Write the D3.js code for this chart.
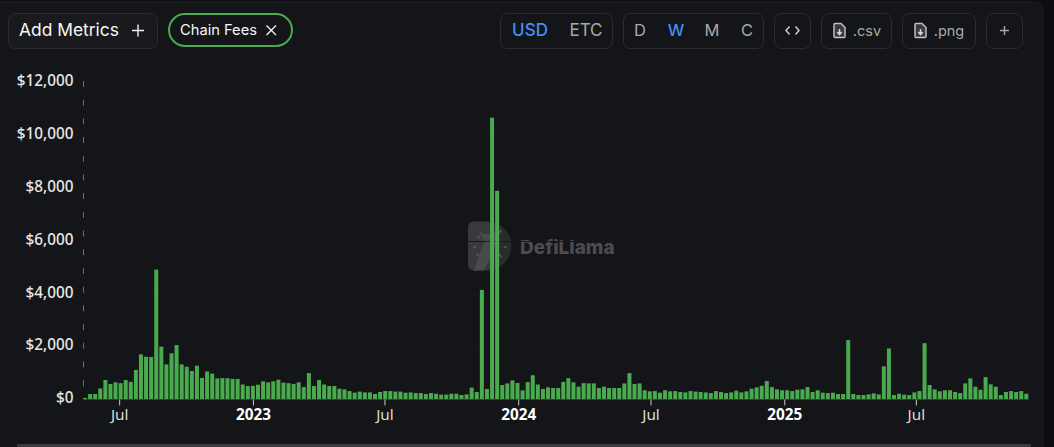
<!DOCTYPE html>
<html><head><meta charset="utf-8">
<script src="https://cdn.jsdelivr.net/npm/d3@7/dist/d3.min.js"></script>
<style>html,body{margin:0;padding:0;background:#0c0d0f;overflow:hidden}svg{display:block}</style>
</head><body><svg id="c" width="1054" height="447"></svg>
<script>
const firstWeek = "2022-05-15";
const chainFees = [40,190,190,400,720,570,630,600,720,650,1100,1690,1600,1590,4900,1980,1310,1730,2040,1310,1220,1060,1260,800,1040,960,780,790,790,760,760,550,490,500,540,670,630,670,730,620,600,570,630,450,980,
490,720,550,490,490,390,365,300,240,280,250,250,190,265,300,300,280,280,240,250,225,225,190,225,200,165,165,200,200,150,175,430,265,4130,380,10650,7880,530,590,705,605,330,640,900,550,
380,440,415,415,650,790,630,465,600,590,590,415,465,415,415,415,590,980,565,590,330,290,300,240,330,290,300,265,250,300,280,265,250,225,300,265,225,250,315,250,290,390,440,500,680,450,365,
330,330,300,350,365,450,265,330,240,225,240,190,190,2230,190,150,150,175,215,175,1235,1915,150,200,165,150,250,300,2115,530,365,290,330,330,265,225,590,780,465,350,830,555,465,150,265,300,265,300,200];
const yTicks = [0,2000,4000,6000,8000,10000,12000];
const xTickDates = ["2022-07-01","2023-01-01","2023-07-01","2024-01-01","2024-07-01","2025-01-01","2025-07-01"];
const xTickLabels = ["Jul","2023","Jul","2024","Jul","2025","Jul"];
const unitOptions = ["USD","ETC"];
const periodOptions = ["D","W","M","C"];

const GREEN="#4aaa4e", BLUE="#4a8bf5", BORDER="#2a2c30";
const svg=d3.select("#c");
const font="Inter, 'Noto Sans', sans-serif";
svg.append("rect").attr("x",-10).attr("y",2).attr("width",1053).attr("height",460).attr("rx",8).attr("fill","#141518").attr("stroke","#1f2023");

// watermark
const wm=svg.append("g");
wm.append("path").attr("d","M474 221.500H487A24.500 24.500 0 0 1 487 270.500H474A6 6 0 0 1 468 264.500V227.500A6 6 0 0 1 474 221.500Z").attr("fill","#2a2b2d");
wm.append("rect").attr("x",468).attr("y",221.5).attr("width",24).attr("height",49).attr("rx",6).attr("fill","#39393b");
wm.append("path").attr("d","M478 229L483 234L490 234L494 229L496 243L492 254L484 270.500L474 270.500L481 250L484 243Z").attr("fill","#4a4a4c");
const wmTicks=[[473,247,476,247],[476,256,479,254],[477,236,480,238],[501,230,499,233],[507,247,504,247],[502,257,499,254]];
wm.append("g").selectAll("line").data(wmTicks).join("line")
 .attr("x1",d=>d[0]).attr("y1",d=>d[1]).attr("x2",d=>d[2]).attr("y2",d=>d[3]).attr("stroke","#58585a").attr("stroke-width",1.5);
wm.append("text").attr("x",520).attr("y",254).attr("font-family","Inter, sans-serif").attr("font-weight",800).attr("font-size",19).attr("fill","#4c4c4e").text("DefiLlama");

// scales
const parse=d3.utcParse("%Y-%m-%d");
const dates=chainFees.map((_,i)=>d3.utcWeek.offset(parse(firstWeek),i));
const x=d3.scaleUtc().domain([dates[0],dates[dates.length-1]]).range([85,1026.3]);
const y=d3.scaleLinear().domain([0,12000]).range([399,82]);

// grid
svg.append("g").selectAll("line").data(yTicks.slice(1)).join("line")
 .attr("x1",84).attr("x2",1029).attr("y1",d=>Math.round(y(d))+.5).attr("y2",d=>Math.round(y(d))+.5)
 .attr("stroke","#18191c");

// bars
svg.append("g").selectAll("rect").data(chainFees).join("rect")
 .attr("x",(d,i)=>x(dates[i])-2).attr("width",4)
 .attr("y",d=>y(d)).attr("height",d=>399-y(d)).attr("fill",GREEN);

// y axis
const ya=svg.append("g").attr("transform","translate(83.5,0)")
 .call(d3.axisLeft(y).tickValues(yTicks).tickSize(0).tickPadding(10).tickFormat(d=>"$"+d3.format(",")(d)));
ya.select(".domain").attr("d","M0,81V399").attr("stroke",GREEN).attr("stroke-dasharray","6 12.700").attr("opacity",.8);
ya.selectAll("text").attr("font-family","'Noto Sans', sans-serif").attr("font-size",15.3).attr("font-weight",500).attr("fill","#e8e8e8").attr("dy","0.25em");

// x axis
const tickD=xTickDates.map(parse);
const xa=svg.append("g").attr("transform","translate(0,399.5)")
 .call(d3.axisBottom(x).tickValues(tickD).tickSize(6).tickPadding(4).tickFormat((d,i)=>xTickLabels[i]));
xa.select(".domain").attr("d","M83,0H1029").attr("stroke","#3a3c3f").attr("stroke-width",1);
xa.selectAll("line").attr("stroke","#c8c8c8");
xa.selectAll("text").attr("font-family","'Noto Sans', sans-serif").attr("font-size",15.3)
 .attr("font-weight",(d,i)=>/^\d/.test(xTickLabels[i])?700:400).attr("fill",(d,i)=>/^\d/.test(xTickLabels[i])?"#fff":"#dcdcdc");

// bottom scrollbar strip
svg.append("rect").attr("x",17).attr("y",444).attr("width",1014).attr("height",4).attr("rx",1).attr("fill","#3a3b3d");

// controls
function box(x0,x1,fill){svg.append("rect").attr("x",x0+.5).attr("y",13.5).attr("width",x1-x0-1).attr("height",35).attr("rx",7).attr("fill",fill||"none").attr("stroke",BORDER);}
function label(t,cx,col,size,anchor,w){svg.append("text").attr("x",cx).attr("y",36).attr("text-anchor",anchor||"middle").attr("font-family",font).attr("font-size",size||16).attr("font-weight",w||400).attr("fill",col).text(t);}
function plus(cx,cy,r,col){svg.append("path").attr("d",`M${cx-r} ${cy}H${cx+r}M${cx} ${cy-r}V${cy+r}`).attr("stroke",col).attr("stroke-width",1.4).attr("fill","none");}
function fileIcon(cx){const g=svg.append("g").attr("transform",`translate(${cx-5.500},23.500)`);
 g.append("path").attr("d","M1 0H7L11 4V13A1 1 0 0 1 10 14H1A1 1 0 0 1 0 13V1A1 1 0 0 1 1 0Z").attr("fill","#3a3b3d").attr("stroke","#c0c0c0").attr("stroke-width",1.5);
 g.append("path").attr("d","M5.500 5.500V10.500M3.300 8.500L5.500 11L7.700 8.500").attr("fill","none").attr("stroke","#d8d8d8").attr("stroke-width",1.5);}

box(8,158,"#191a1d");
label("Add Metrics",19,"#f6f6f6",17.4,"start",400);
plus(138,30.5,6,"#f0f0f0");
svg.append("rect").attr("x",169).attr("y",14).attr("width",123).attr("height",32).attr("rx",16).attr("fill","none").attr("stroke",GREEN).attr("stroke-width",2);
svg.append("text").attr("x",180).attr("y",35).attr("font-family",font).attr("font-size",14.7).attr("font-weight",400).attr("fill","#f6f6f6").text("Chain Fees");
svg.append("path").attr("d","M266.500 25.500L276 35M276 25.500L266.500 35").attr("stroke","#f0f0f0").attr("stroke-width",1.4);

box(500,613);
const unitX=[530,586];
unitOptions.forEach((t,i)=>label(t,unitX[i],i==0?BLUE:"#a8a8a8",17,"middle",i==0?500:400));
box(623,764);
const periodX=[640,676,712,747];
periodOptions.forEach((t,i)=>label(t,periodX[i],i==1?BLUE:"#a8a8a8",16.5,"middle",i==1?500:400));
box(774,811);
svg.append("path").attr("d","M789.500 26.500L786 30.500L789.500 34.500M795.500 26.500L799 30.500L795.500 34.500").attr("fill","none").attr("stroke","#d0d0d0").attr("stroke-width",1.4);
box(821,892); fileIcon(839.5); label(".csv",867,"#a8a8a8",14.5);
box(902,976); fileIcon(920.5); label(".png",949,"#a8a8a8",14.5);
box(986,1023); plus(1004.5,30.5,4.5,"#a8a8a8");
</script></body></html>
